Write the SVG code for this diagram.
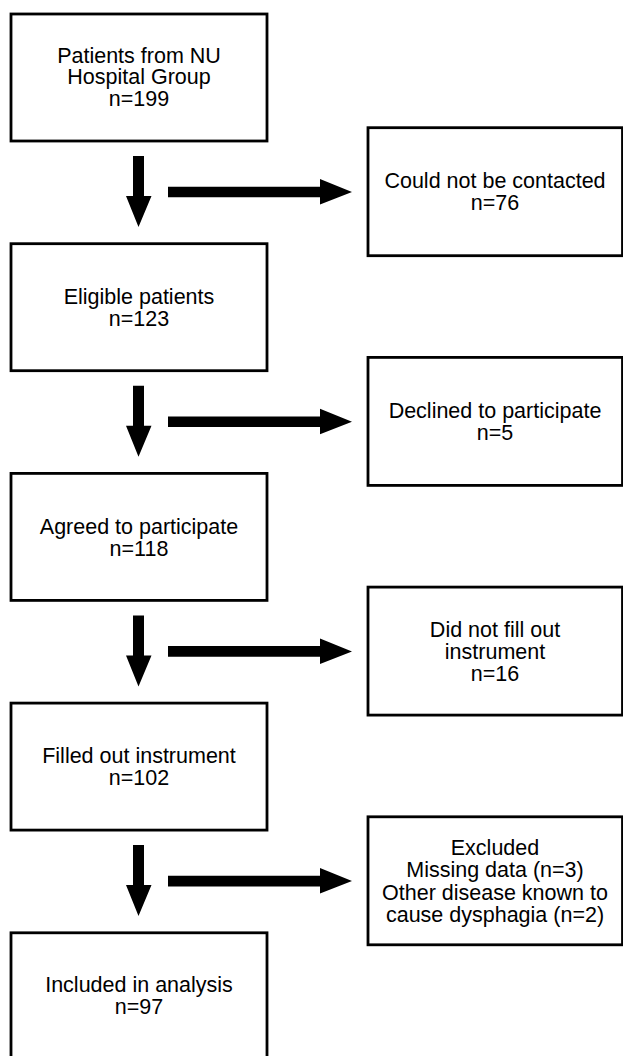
<svg xmlns="http://www.w3.org/2000/svg" xmlns:xlink="http://www.w3.org/1999/xlink" width="623" height="1056" viewBox="0 0 623 1056">
<style>
.box{fill:#fff;stroke:#000;stroke-width:2.8}
text{font-family:"Liberation Sans",Arial,Helvetica,sans-serif;font-size:21.5px;fill:#000;text-anchor:middle}
.arr{fill:#000}
</style>
<defs>
<polygon id="down" class="arr" points="133,156 144,156 144,196 151.5,196 138.5,227 126,196 133,196"/>
<polygon id="right" class="arr" points="168,186.7 320,186.7 320,179 352,192 320,204.5 320,197.3 168,197.3"/>
</defs>
<rect width="623" height="1056" fill="#fff"/>
<g id="connectors">
<use xlink:href="#down"/>
<use xlink:href="#right"/>
<use xlink:href="#down" y="229.7"/>
<use xlink:href="#right" y="229.7"/>
<use xlink:href="#down" y="459.4"/>
<use xlink:href="#right" y="459.4"/>
<use xlink:href="#down" y="689.1"/>
<use xlink:href="#right" y="689.1"/>
</g>
<g id="n1">
<rect class="box" x="11" y="14" width="256" height="127"/>
<text x="139" y="62.5">Patients from NU</text>
<text x="139" y="84">Hospital Group</text>
<text x="139" y="105.5">n=199</text>
</g>
<g id="r1">
<rect class="box" x="368" y="127.7" width="254.5" height="128"/>
<text x="495" y="188.3">Could not be contacted</text>
<text x="495" y="210">n=76</text>
</g>
<g id="n2">
<rect class="box" x="11" y="243.7" width="256" height="127"/>
<text x="139" y="304">Eligible patients</text>
<text x="139" y="325.7">n=123</text>
</g>
<g id="r2">
<rect class="box" x="368" y="357.4" width="254.5" height="128"/>
<text x="495" y="418.2">Declined to participate</text>
<text x="495" y="439.8">n=5</text>
</g>
<g id="n3">
<rect class="box" x="11" y="473.4" width="256" height="127"/>
<text x="139" y="533.5">Agreed to participate</text>
<text x="139" y="555.5">n=118</text>
</g>
<g id="r3">
<rect class="box" x="368" y="587.1" width="254.5" height="128"/>
<text x="495" y="636.7">Did not fill out</text>
<text x="495" y="659">instrument</text>
<text x="495" y="681">n=16</text>
</g>
<g id="n4">
<rect class="box" x="11" y="703.1" width="256" height="127"/>
<text x="139" y="763.4">Filled out instrument</text>
<text x="139" y="785">n=102</text>
</g>
<g id="r4">
<rect class="box" x="368" y="816.8" width="254.5" height="128"/>
<text x="495" y="855">Excluded</text>
<text x="495" y="877.3">Missing data (n=3)</text>
<text x="495" y="899.5">Other disease known to</text>
<text x="495" y="921.7">cause dysphagia (n=2)</text>
</g>
<g id="n5">
<rect class="box" x="11" y="932.8" width="256" height="127"/>
<text x="139" y="992.3">Included in analysis</text>
<text x="139" y="1014.3">n=97</text>
</g>
</svg>
